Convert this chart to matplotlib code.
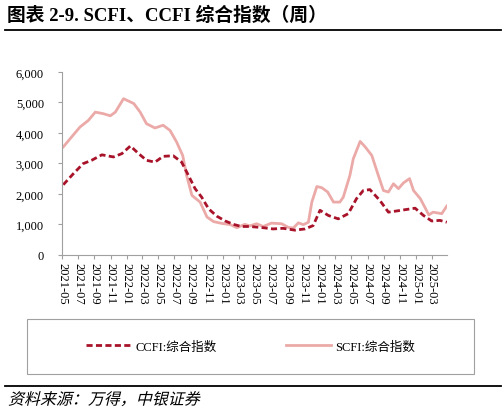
"""SCFI / CCFI composite index, weekly (figure 2-9)."""

import matplotlib

matplotlib.use("Agg")
import matplotlib.pyplot as plt
import numpy as np
from matplotlib.font_manager import FontProperties
from matplotlib.lines import Line2D
from matplotlib.patches import PathPatch, Rectangle
from matplotlib.textpath import TextPath
from matplotlib.transforms import Affine2D

plt.rcParams["font.family"] = ["Liberation Serif", "Noto Sans CJK SC"]

CCFI_COLOR = "#A8132A"
SCFI_COLOR = "#EBAAA8"

# values
scfi_dates = [
    "2021-05-06", "2021-06-01", "2021-07-08", "2021-08-09", "2021-09-04",
    "2021-10-04", "2021-10-31", "2021-11-19", "2021-12-20", "2022-01-28",
    "2022-02-21", "2022-03-17", "2022-04-18", "2022-05-19", "2022-06-14",
    "2022-07-09", "2022-08-01", "2022-08-16", "2022-09-05", "2022-10-06",
    "2022-11-01", "2022-11-26", "2022-12-28", "2023-01-29", "2023-02-22",
    "2023-03-24", "2023-04-12", "2023-05-08", "2023-06-02", "2023-07-03",
    "2023-08-11", "2023-09-05", "2023-09-24", "2023-10-13", "2023-11-01",
    "2023-11-20", "2023-12-03", "2023-12-22", "2024-01-10", "2024-02-01",
    "2024-02-23", "2024-03-18", "2024-03-31", "2024-04-25", "2024-05-08",
    "2024-06-03", "2024-06-22", "2024-07-17", "2024-08-11", "2024-08-30",
    "2024-09-18", "2024-10-07", "2024-10-26", "2024-11-14", "2024-12-07",
    "2024-12-22", "2025-01-17", "2025-02-18", "2025-03-06", "2025-04-08",
    "2025-04-27",
]
scfi_values = [
    3540, 3810, 4190, 4410, 4680,
    4630, 4560, 4680, 5120, 4960,
    4680, 4300, 4160, 4250, 4080,
    3700, 3260, 2600, 1950, 1730,
    1240, 1090, 1030, 990, 890,
    1000, 950, 1020, 930, 1040,
    1020, 900, 880, 1050, 990,
    1070, 1730, 2240, 2200, 2060,
    1730, 1730, 1890, 2600, 3150,
    3720, 3540, 3260, 2600, 2110,
    2060, 2330, 2170, 2360, 2500,
    2110, 1840, 1310, 1400, 1350,
    1600,
]

ccfi_dates = [
    "2021-05-06", "2021-06-13", "2021-07-20", "2021-08-21", "2021-09-29",
    "2021-11-12", "2021-12-14", "2022-01-15", "2022-02-15", "2022-03-17",
    "2022-04-18", "2022-05-19", "2022-06-26", "2022-07-28", "2022-08-16",
    "2022-09-17", "2022-10-12", "2022-11-07", "2022-12-08", "2023-01-09",
    "2023-02-09", "2023-03-11", "2023-04-12", "2023-06-02", "2023-07-09",
    "2023-08-16", "2023-09-30", "2023-11-07", "2023-12-08", "2024-01-03",
    "2024-02-04", "2024-03-12", "2024-04-19", "2024-05-20", "2024-06-15",
    "2024-07-10", "2024-08-17", "2024-09-18", "2024-10-20", "2024-11-27",
    "2024-12-28", "2025-01-29", "2025-03-01", "2025-04-01", "2025-04-27",
]
ccfi_values = [
    2300, 2660, 2990, 3100, 3280,
    3210, 3320, 3570, 3320, 3100,
    3040, 3230, 3250, 3040, 2720,
    2170, 1890, 1510, 1270, 1110,
    1000, 930, 930, 890, 850,
    870, 810, 850, 960, 1460,
    1290, 1180, 1350, 1840, 2110,
    2140, 1780, 1400, 1440, 1490,
    1530, 1290, 1110, 1130, 1070,
]

tick_months = [
    "2021-05", "2021-07", "2021-09", "2021-11", "2022-01", "2022-03",
    "2022-05", "2022-07", "2022-09", "2022-11", "2023-01", "2023-03",
    "2023-05", "2023-07", "2023-09", "2023-11", "2024-01", "2024-03",
    "2024-05", "2024-07", "2024-09", "2024-11", "2025-01", "2025-03",
]
y_ticks = [0, 1000, 2000, 3000, 4000, 5000, 6000]


fig = plt.figure(figsize=(5.04, 4.14), dpi=100)
ax = fig.add_axes([0.123, 0.382, 0.764, 0.442])

sd = np.array(scfi_dates, dtype="datetime64[D]")
cd = np.array(ccfi_dates, dtype="datetime64[D]")
ax.plot(sd, scfi_values, color=SCFI_COLOR, lw=2.0, solid_joinstyle="round")
ax.plot(cd, ccfi_values, color=CCFI_COLOR, lw=2.0, ls=(0, (2.2, 1.2)))

ax.set_ylim(0, 6000)
ax.set_yticks(y_ticks)
ax.set_yticklabels([f"{v:,}" for v in y_ticks], fontsize=9)
ticks = np.array([m + "-01" for m in tick_months], dtype="datetime64[D]")
ax.set_xticks(ticks)
ax.set_xticklabels(tick_months, rotation=270, fontsize=9)
ax.set_xlim(np.datetime64("2021-05-01"), np.datetime64("2025-04-28"))

for side in ("top", "right"):
    ax.spines[side].set_visible(False)
for side in ("left", "bottom"):
    ax.spines[side].set_color("#A0A0A0")
    ax.spines[side].set_linewidth(0.8)
ax.tick_params(axis="y", length=3, color="#A0A0A0", pad=10)
ax.tick_params(axis="x", length=3, color="#A0A0A0", pad=2)

# legend inside a grey box
fig.patches.append(Rectangle((0.054, 0.094), 0.887, 0.133, transform=fig.transFigure,
                             fill=False, edgecolor="#A0A0A0", lw=0.8))
handles = [
    Line2D([], [], color=CCFI_COLOR, lw=2.0, ls=(0, (2.2, 1.2))),
    Line2D([], [], color=SCFI_COLOR, lw=2.0),
]
fig.legend(handles, ["CCFI:综合指数", "SCFI:综合指数"], loc="center",
           bbox_to_anchor=(0.054, 0.094, 0.887, 0.133), ncol=2, frameon=False,
           fontsize=9, handlelength=3.6, columnspacing=5.6, handletextpad=0.3)

# title, rules
fig.text(0.014, 0.962, "图表 2-9. SCFI、CCFI 综合指数（周）", fontsize=13.5,
         fontweight="bold", va="center", ha="left")
fig.add_artist(Line2D([0.01, 0.995], [0.925, 0.925], color="black", lw=1.3,
                      transform=fig.transFigure))
fig.add_artist(Line2D([0.01, 0.995], [0.065, 0.065], color="black", lw=1.3,
                      transform=fig.transFigure))

# source line: the CJK font has no italic, so slant the glyph outlines by hand
src_size = 11.5 / 72  # inches
src_path = TextPath((0, 0), "资料来源：万得，中银证券", size=src_size,
                    prop=FontProperties(family="Noto Sans CJK SC", weight="light"))
src_tf = Affine2D().skew_deg(14, 0).translate(0.08, 0.085) + fig.dpi_scale_trans
fig.patches.append(PathPatch(src_path, transform=src_tf, facecolor="black",
                             edgecolor="none"))

fig.savefig("out.png", dpi=100)
